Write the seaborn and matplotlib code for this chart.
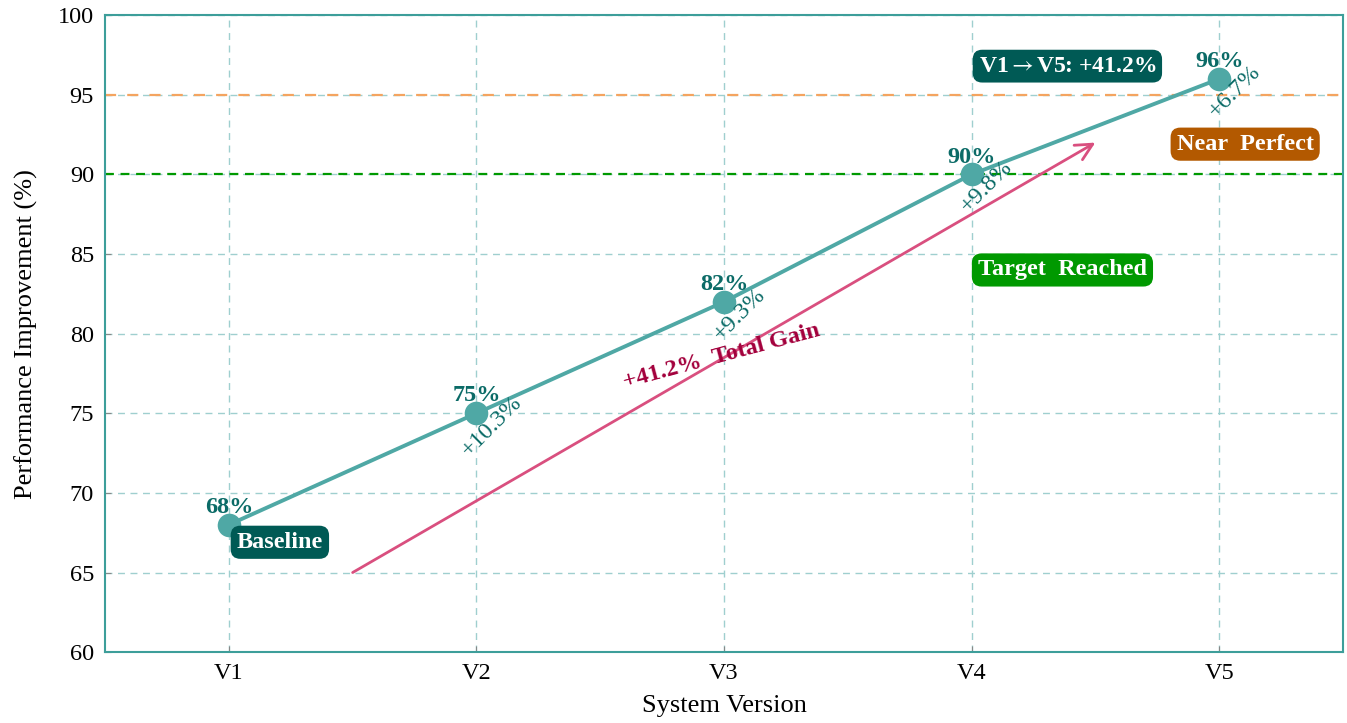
import matplotlib
matplotlib.use("Agg")
import matplotlib.pyplot as plt
import seaborn as sns
import pandas as pd

versions = ["V1", "V2", "V3", "V4", "V5"]
performance = [68, 75, 82, 90, 96]

target_level = 90
near_perfect_level = 95

sns.set_theme(style="white")
plt.rcParams["font.family"] = ["Liberation Serif", "DejaVu Serif"]
plt.rcParams["mathtext.fontset"] = "stix"

df = pd.DataFrame({"version": versions, "performance": performance})

fig = plt.figure(figsize=(13.47, 7.23), dpi=100)
ax = fig.add_axes([0.078, 0.098, 0.9190, 0.881])

line_color = "#4fa8a5"
label_color = "#0b6b67"
box_dark = "#005a55"

# reference levels
ax.axhline(near_perfect_level, color="#f4a460", lw=1.6, ls=(0, (5, 5)), zorder=1.5)
ax.axhline(target_level, color="#009900", lw=1.6, ls=(0, (4, 3)), zorder=1.5)

sns.lineplot(data=df, x="version", y="performance", ax=ax, color=line_color,
             lw=2.8, marker="o", markersize=17, markeredgewidth=0,
             markerfacecolor=line_color, zorder=3, sort=False)

# value labels and step-over-step gains
for i, v in enumerate(performance):
    ax.annotate(f"{v}%", (i, v), xytext=(0, 12.5), textcoords="offset points",
                ha="center", va="center", fontsize=17.5, fontweight="bold",
                color=label_color, zorder=4)
    if i > 0:
        gain = (v - performance[i - 1]) / performance[i - 1] * 100
        ax.annotate(f"+{gain:.1f}%", (i, v), xytext=(11, -9), textcoords="offset points",
                    ha="center", va="center", rotation=45, rotation_mode="anchor",
                    fontsize=17.5, color=label_color, zorder=4)

total_gain = (performance[-1] - performance[0]) / performance[0] * 100

# overall trend arrow
ax.annotate("", xy=(3.5, 92), xytext=(0.5, 65),
            arrowprops=dict(arrowstyle="->", color="#d94f7f", lw=2,
                            mutation_scale=30, shrinkA=0, shrinkB=0), zorder=2)
ax.text(1.99, 78.6, f"+{total_gain:.1f}%  Total Gain", rotation=15, ha="center", va="center",
        fontsize=17.5, fontweight="bold", color="#a3003c", zorder=4)

box_kw = dict(boxstyle="round,pad=0.25,rounding_size=0.4", ec="none")
ax.text(0.206, 66.9, "Baseline", ha="center", va="center", fontsize=17.5,
        fontweight="bold", color="white", bbox=dict(fc=box_dark, **box_kw), zorder=5)
ax.text(3.387, 96.8, f"V1$\\rightarrow$V5: +{total_gain:.1f}%", ha="center", va="center",
        fontsize=17, fontweight="bold", color="white",
        bbox=dict(fc=box_dark, **box_kw), zorder=5)
ax.text(4.105, 91.9, "Near  Perfect", ha="center", va="center", fontsize=17.5,
        fontweight="bold", color="white", bbox=dict(fc="#b35900", **box_kw), zorder=5)
ax.text(3.367, 84.0, "Target  Reached", ha="center", va="center", fontsize=17.5,
        fontweight="bold", color="white", bbox=dict(fc="#009900", **box_kw), zorder=5)

ax.set_xlim(-0.5, 4.5)
ax.set_ylim(60, 100)
ax.set_yticks(range(60, 101, 5))
ax.grid(True, color="#9fcfcf", ls=(0, (5, 4)), lw=1.0)
ax.set_axisbelow(True)

ax.set_xlabel("System Version", fontsize=19, color="black", labelpad=8)
ax.set_ylabel("Performance Improvement (%)", fontsize=19, color="black", labelpad=14)
ax.tick_params(axis="both", labelsize=17.5, direction="in", length=4, width=0.8,
               color="#888888", labelcolor="black", pad=8)
ax.tick_params(axis="x", bottom=True, top=False)
ax.tick_params(axis="y", left=True, right=False)

for s in ax.spines.values():
    s.set_color("#3d9e9a")
    s.set_linewidth(1.5)
    s.set_visible(True)

fig.savefig("out.png", dpi=100)
